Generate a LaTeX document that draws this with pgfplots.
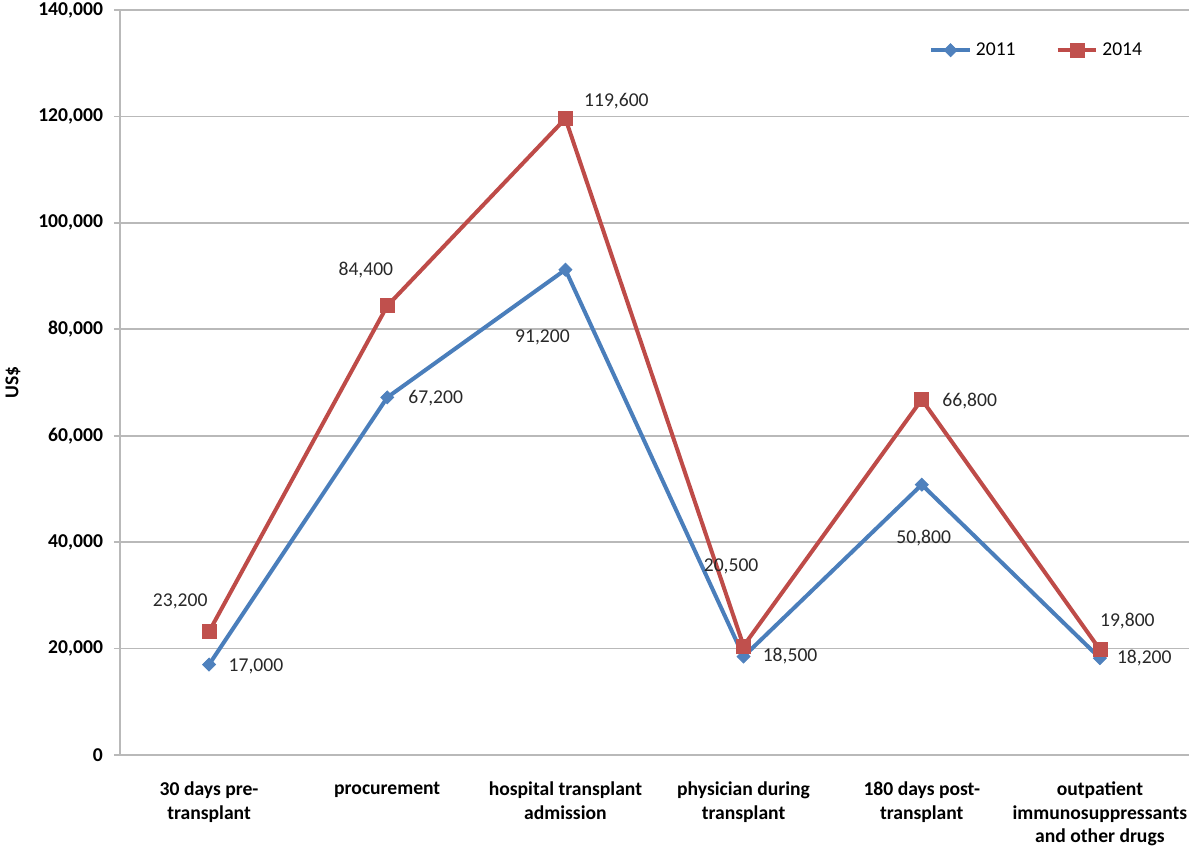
\documentclass[border=0pt]{standalone}
\usepackage{fontspec}
\setmainfont{Carlito}
\usepackage{pgfplots}
\pgfplotsset{compat=1.18}
\definecolor{b11}{HTML}{4A7EBB}
\definecolor{b11m}{HTML}{4F81BD}
\definecolor{r14}{HTML}{BE4B48}
\definecolor{r14m}{HTML}{C0504D}
\definecolor{gridc}{RGB}{185,185,185}
\definecolor{lbl}{RGB}{40,40,40}
\begin{document}
\begin{tikzpicture}[font=\fontsize{9.8}{11.6}\selectfont]
\begin{axis}[
  at={(0,0)}, anchor=south west,
  scale only axis, width=534.5pt, height=372.5pt,
  xmin=-0.5, xmax=5.5, ymin=0, ymax=140000,
  xtick={0,1,2,3,4,5},
  xticklabels={{30 days pre-\\transplant},{procurement},{hospital transplant\\admission},{physician during\\transplant},{180 days post-\\transplant},{outpatient\\immunosuppressants\\and other drugs}},
  x tick label style={font=\fontsize{9.8}{11.6}\selectfont\bfseries, align=center, anchor=north, yshift=-7pt},
  major x tick style={draw=none},
  ytick={0,20000,40000,60000,80000,100000,120000,140000},
  scaled y ticks=false,
  y tick label style={font=\fontsize{9.8}{11.6}\selectfont\bfseries, xshift=-2pt},
  /pgf/number format/fixed,
  /pgf/number format/1000 sep={,},
  /pgf/number format/assume math mode=true,
  tick align=outside, major tick length=3pt,
  y tick style={gridc, line width=0.8pt},
  ymajorgrids, grid style={gridc, line width=0.8pt},
  axis x line*=bottom, axis y line*=left,
  axis line style={gridc, line width=0.8pt, -},
  ylabel={US\$},
  ylabel style={font=\fontsize{9.8}{11.6}\selectfont\bfseries, at={(axis description cs:-0.1001,0.5)}, anchor=center},
  legend columns=2,
  legend style={draw=none, fill=none, at={(axis description cs:0.751,0.946)}, anchor=west, font=\fontsize{9.8}{11.6}\selectfont, /tikz/every even column/.append style={column sep=18pt}},
  legend image code/.code={\draw[mark repeat=2,mark phase=2,#1] plot coordinates {(0cm,0cm) (0.34cm,0cm) (0.68cm,0cm)};},
]
\addplot[b11, line width=2pt, mark=square*, mark size=2.3pt, mark options={solid, rotate=45, fill=b11m, draw=b11m, line width=0.4pt}]
  coordinates {(0,17000) (1,67200) (2,91200) (3,18500) (4,50800) (5,18200)};
\addlegendentry{2011}
\addplot[r14, line width=2pt, mark=square*, mark size=3.5pt, mark options={solid, fill=r14m, draw=r14m, line width=0.4pt}]
  coordinates {(0,23200) (1,84400) (2,119600) (3,20500) (4,66800) (5,19800)};
\addlegendentry{2014}
\begin{scope}[every node/.style={text=lbl, font=\fontsize{9.8}{11.6}\selectfont, inner sep=0pt}]
\node at (axis cs:0.263,16720) {17,000};
\node at (axis cs:1.272,67080) {67,200};
\node at (axis cs:1.871,78540) {91,200};
\node at (axis cs:3.261,18600) {18,500};
\node at (axis cs:4.011,40770) {50,800};
\node at (axis cs:5.249,18230) {18,200};
\node at (axis cs:-0.162,28940) {23,200};
\node at (axis cs:0.880,91130) {84,400};
\node at (axis cs:2.286,122890) {119,600};
\node at (axis cs:2.930,35510) {20,500};
\node at (axis cs:4.269,66520) {66,800};
\node at (axis cs:5.154,25180) {19,800};
\end{scope}
\end{axis}
\pgfresetboundingbox
\path[use as bounding box] (-60pt,-46pt) rectangle (536pt,377.5pt);
\end{tikzpicture}
\end{document}
